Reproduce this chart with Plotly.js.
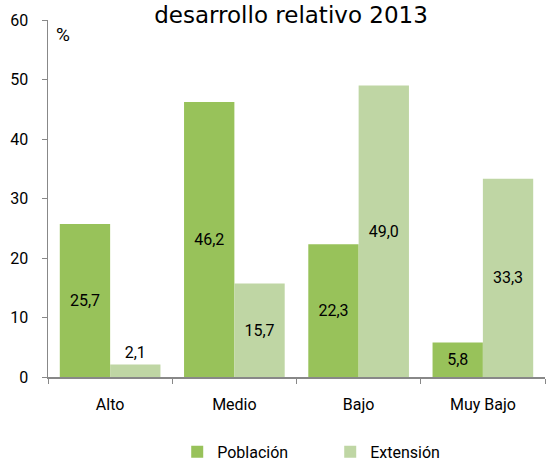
<!DOCTYPE html>
<html><head><meta charset="utf-8">
<script src="https://cdn.plot.ly/plotly-3.0.1.min.js"></script>
<style>html,body{margin:0;padding:0;background:#fff}</style>
</head><body>
<div id="chart" style="width:546px;height:470px"></div>
<script>
const categories = ['Alto', 'Medio', 'Bajo', 'Muy Bajo'];
const poblacion = [25.7, 46.2, 22.3, 5.8];
const extension = [2.1, 15.7, 49.0, 33.3];
const yTicks = [0, 10, 20, 30, 40, 50, 60];

const narrow = 'Roboto, Liberation Sans, sans-serif';

const traces = [
  {type: 'bar', name: 'Población', x: categories, y: poblacion,
   marker: {color: '#98c25a'},
   texttemplate: '%{y:.1f}', textposition: ['inside','inside','inside','inside'],
   insidetextanchor: 'middle', constraintext: 'none', cliponaxis: false,
   textfont: {family: narrow, size: 16, color: '#000'}, hoverinfo: 'none'},
  {type: 'bar', name: 'Extensión', x: categories, y: extension,
   marker: {color: '#bfd6a4'},
   texttemplate: '%{y:.1f}', textposition: ['outside','inside','inside','inside'],
   insidetextanchor: 'middle', constraintext: 'none', cliponaxis: false,
   textfont: {family: narrow, size: 16, color: '#000'}, hoverinfo: 'none'}
];

const layout = {
  width: 546, height: 470,
  margin: {l: 48, r: 1, t: 20, b: 88},
  separators: ',.',
  paper_bgcolor: '#fff', plot_bgcolor: '#fff',
  barmode: 'group', bargap: 0.19, bargroupgap: 0,
  title: {text: 'desarrollo relativo 2013', x: 0.533, xanchor: 'center', y: 0.968, yanchor: 'middle',
          font: {family: 'DejaVu Sans', size: 23, color: '#000'}},
  xaxis: {type: 'category', tickson: 'boundaries', ticks: 'outside', ticklen: 5, tickcolor: '#888',
          showline: true, linecolor: '#888', linewidth: 1.5, showgrid: false, zeroline: false,
          ticklabelstandoff: 12,
          tickfont: {family: narrow, size: 16, color: '#000'}, fixedrange: true},
  yaxis: {range: [0, 60], tickvals: yTicks, ticks: 'outside', ticklen: 5, tickcolor: '#888',
          showline: true, linecolor: '#888', linewidth: 1.5, showgrid: false, zeroline: false,
          ticklabelstandoff: 10,
          tickfont: {family: narrow, size: 16, color: '#000'}, fixedrange: true},
  showlegend: true,
  legend: {orientation: 'h', x: 0.26, xanchor: 'left', y: -0.21, yanchor: 'middle',
           entrywidth: 108, entrywidthmode: 'pixels',
           font: {family: narrow, size: 16, color: '#000'}, itemclick: false},
  annotations: [{text: '%', xref: 'paper', yref: 'paper', x: 0.012, y: 0.958, xanchor: 'left', yanchor: 'middle',
                 showarrow: false, font: {family: narrow, size: 19, color: '#000'}}]
};

Plotly.newPlot('chart', traces, layout, {displayModeBar: false, staticPlot: true});
</script>
</body></html>
